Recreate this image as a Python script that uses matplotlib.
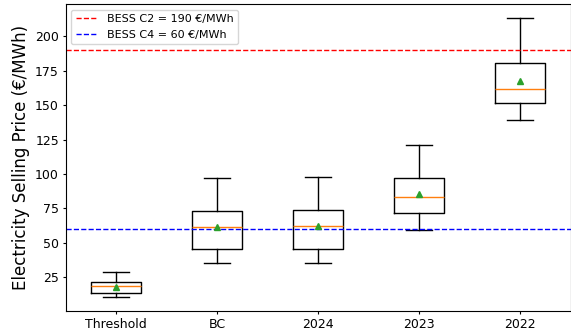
import matplotlib
matplotlib.use('Agg')
import matplotlib.pyplot as plt

# Box statistics (€/MWh)
labels = ['Threshold', 'BC', '2024', '2023', '2022']
whislo = [10.7, 35.2, 35.4, 59.2, 139.5]
q1 = [13.4, 45.3, 45.3, 71.5, 151.4]
med = [18.5, 61.6, 62.0, 83.1, 161.6]
q3 = [21.8, 73.4, 73.7, 97.4, 180.7]
whishi = [29.1, 97.4, 97.9, 120.9, 213.2]
mean = [18.2, 61.8, 62.0, 85.8, 167.4]

bess_c2 = 190
bess_c4 = 60

stats = []
for i in range(len(labels)):
    stats.append(dict(label=labels[i], whislo=whislo[i], q1=q1[i], med=med[i],
                      q3=q3[i], whishi=whishi[i], mean=mean[i], fliers=[]))

fig = plt.figure(figsize=(5.71, 3.32), dpi=100)
ax = fig.add_axes([65.5/571, 1 - 311/332, (570.5 - 65.5)/571, (311 - 4)/332])

ax.bxp(stats, showmeans=True, showfliers=False,
       meanprops=dict(marker='^', markerfacecolor='tab:green', markeredgecolor='tab:green', markersize=4.5))
ax.axhline(bess_c2, color='red', linestyle='--', linewidth=1, label='BESS C2 = 190 €/MWh')
ax.axhline(bess_c4, color='blue', linestyle='--', linewidth=1, label='BESS C4 = 60 €/MWh')

ax.set_ylabel('Electricity Selling Price (€/MWh)', fontsize=12, labelpad=4)
ax.tick_params(labelsize=9, length=2.5, pad=2.2)
ax.legend(loc='upper left', fontsize=8)

fig.savefig('out.png', dpi=100)
